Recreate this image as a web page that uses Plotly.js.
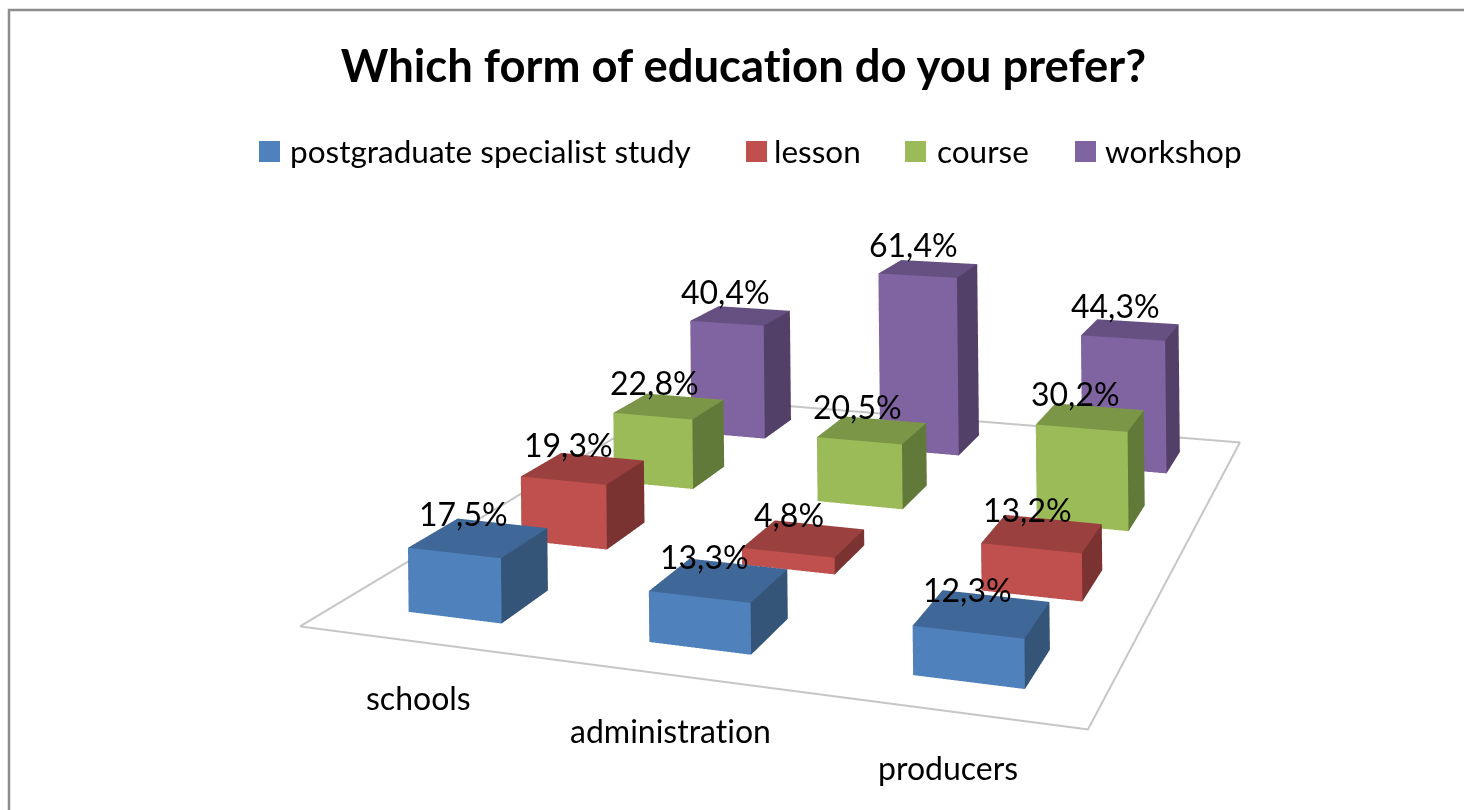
<!DOCTYPE html>
<html>
<head>
<meta charset="utf-8">
<script src="https://cdn.plot.ly/plotly-3.0.1.min.js"></script>
<style>html,body{margin:0;padding:0;background:#fff;overflow:hidden;width:1464px;height:810px}
#chart{position:absolute;left:0;top:-985px;width:1464px;height:1795px}
text{font-variant-ligatures:none;font-feature-settings:"liga" 0}</style>
</head>
<body>
<div id="chart"></div>
<script>
const categories = ["schools", "administration", "producers"];
const seriesNames = ["postgraduate specialist study", "lesson", "course", "workshop"];
const postgraduate = [17.5, 13.3, 12.3];
const lesson = [19.3, 4.8, 13.2];
const course = [22.8, 20.5, 30.2];
const workshop = [40.4, 61.4, 44.3];
const seriesValues = [postgraduate, lesson, course, workshop];
const frontColors = ["#4F81BD", "#C0504D", "#9BBB59", "#8064A2"];
const topColors = ["#3F6797", "#9A403E", "#7C9647", "#665082"];
const sideColors = ["#345578", "#7A3331", "#627A39", "#524068"];
const legendSquareLeft = [259, 746, 905, 1075];
const legendTextLeft = [290, 774, 937, 1105];

const W = 1464, H = 1795, TOP = 985;
const px = x => x / W;
const py = y => 1 - (y + TOP) / H;
const halfX = 0.2, halfY = 0.21;
const fmt = v => v.toFixed(1).replace(".", ",") + "%";
const FONT = "Lato, sans-serif";
const barX = (c, s) => c + 0.51 + 0.008 * c + 0.007 * s;
const barY = s => s + 0.5;

function barTrace(c, s, v) {
  const cx = barX(c, s), cy = barY(s);
  const x0 = cx - halfX, x1 = cx + halfX, y0 = cy - halfY, y1 = cy + halfY;
  const faces = [
    [0,1,5,frontColors[s]],[0,5,4,frontColors[s]],
    [1,2,6,sideColors[s]],[1,6,5,sideColors[s]],
    [4,5,6,topColors[s]],[4,6,7,topColors[s]],
    [3,0,4,sideColors[s]],[3,4,7,sideColors[s]],
    [2,3,7,sideColors[s]],[2,7,6,sideColors[s]]
  ];
  return {
    type: "mesh3d", name: seriesNames[s] + " " + categories[c],
    x: [x0,x1,x1,x0,x0,x1,x1,x0],
    y: [y0,y0,y1,y1,y0,y0,y1,y1],
    z: [0,0,0,0,v,v,v,v],
    i: faces.map(f => f[0]), j: faces.map(f => f[1]), k: faces.map(f => f[2]),
    facecolor: faces.map(f => f[3]),
    flatshading: true,
    lighting: {ambient: 1, diffuse: 0, specular: 0, roughness: 1, fresnel: 0},
    hoverinfo: "skip", showlegend: false, showscale: false
  };
}

const traces = [];
traces.push({
  type: "scatter3d", mode: "lines", x: [0,3,3,0,0], y: [0,0,4,4,0], z: [0,0,0,0,0],
  line: {color: "#C6C6C6", width: 4}, hoverinfo: "skip", showlegend: false
});
const annotations3d = [];
seriesValues.forEach((vals, s) => {
  vals.forEach((v, c) => {
    traces.push(barTrace(c, s, v));
    annotations3d.push({
      x: barX(c, s), y: barY(s), z: v, text: fmt(v), showarrow: false,
      xshift: -15, yshift: 24, font: {family: FONT, size: 32, color: "#000"}
    });
  });
});
categories.forEach((name, c) => {
  annotations3d.push({
    x: barX(c, 0), y: 0, z: 0, text: name, showarrow: false,
    xshift: 0, yshift: -56, font: {family: FONT, size: 32, color: "#000"}
  });
});

const legendShapes = seriesNames.map((n, s) => ({
  type: "rect", xref: "paper", yref: "paper",
  x0: px(legendSquareLeft[s]), x1: px(legendSquareLeft[s] + 21), y0: py(162), y1: py(141),
  line: {width: 0}, fillcolor: frontColors[s]
}));
const legendLabels = seriesNames.map((n, s) => ({
  xref: "paper", yref: "paper", x: px(legendTextLeft[s]), y: py(151), xanchor: "left", yanchor: "middle",
  text: n, showarrow: false, font: {family: FONT, size: 31.5, color: "#000"}, xshift: -2
}));

const layout = {
  width: W, height: H, margin: {l: 0, r: 0, t: 0, b: 0},
  paper_bgcolor: "#fff",
  title: {text: "<b>Which form of education do you prefer?</b>", x: px(743.5), xanchor: "center", y: py(66), yanchor: "middle",
          font: {family: FONT, size: 45.4, color: "#000"}},
  showlegend: false,
  annotations: legendLabels,
  shapes: [{type: "rect", xref: "paper", yref: "paper", x0: px(9), x1: 1.01, y0: py(900), y1: py(10),
            line: {color: "#8E8E8E", width: 2.5}, fillcolor: "rgba(0,0,0,0)"}].concat(legendShapes),
  scene: {
    domain: {x: [0, 1], y: [(H - 1757) / H, 1]},
    bgcolor: "rgba(0,0,0,0)",
    dragmode: "orbit",
    aspectmode: "manual", aspectratio: {x: 1, y: 1.2803, z: 0.33},
    xaxis: {visible: false, range: [0, 3], autorange: false},
    yaxis: {visible: false, range: [0, 4], autorange: false},
    zaxis: {visible: false, range: [0, 70], autorange: false},
    camera: {
      projection: {type: "perspective"},
      eye: {x: 0.9665, y: -2.9476, z: 0.7543},
      center: {x: -0.0955, y: -0.142, z: 0.7546},
      up: {x: 0.0095, y: 0.0035, z: 0.99995}
    },
    annotations: annotations3d
  }
};
Plotly.newPlot("chart", traces, layout, {displayModeBar: false});
</script>
</body>
</html>
